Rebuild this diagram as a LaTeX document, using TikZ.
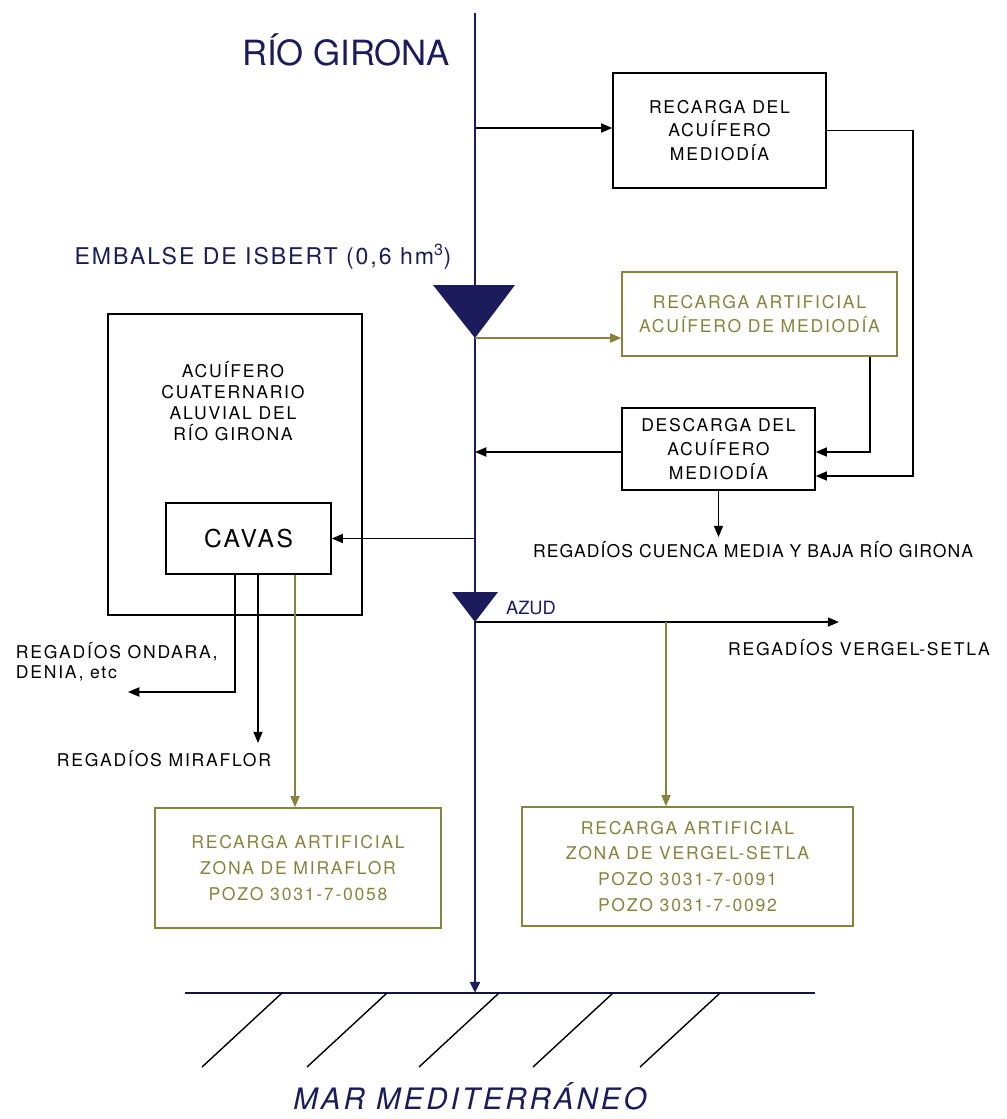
\documentclass[tikz,border=0pt]{standalone}
\usepackage{fontspec}
\setmainfont{TeX Gyre Heros}
\newfontfamily\ancho[LetterSpace=10]{TeX Gyre Heros}
\newfontfamily\medio[LetterSpace=6]{TeX Gyre Heros}
\newfontfamily\embal[LetterSpace=8.5]{TeX Gyre Heros}
\usetikzlibrary{arrows.meta}

\definecolor{marino}{RGB}{28,28,92}
\definecolor{oliva}{RGB}{135,130,60}

\tikzset{
  fino/.style={line width=1pt},
  flecha/.style={fino, -{Triangle[length=8pt,width=6.5pt]}},
  rio/.style={marino, line width=1.9pt, -{Triangle[length=8pt,width=7pt]}},
  caja/.style={draw, fino, inner sep=0pt, align=center,
    font=\ancho\fontsize{12.5}{16.5}\selectfont},
  cajaoliva/.style={caja, draw=oliva, text=oliva},
  rotulo/.style={align=left, font=\ancho\fontsize{12.5}{14.2}\selectfont},
}

\begin{document}
\begin{tikzpicture}[x=0.025cm,y=-0.025cm]
    \useasboundingbox (0,0) rectangle (1007,1119);

    % rio Girona
    \coordinate (rtop) at (475,13);
    \coordinate (rmar) at (475,993);
    \draw[rio] (rtop) -- (rmar);
    \node[text=marino, font=\fontsize{24.7}{28}\selectfont] (girona) at (346,50) {RÍO GIRONA};

    % embalse y azud
    \fill[marino] (433,285) -- (515,285) -- (475,338) coordinate (embalse) -- cycle;
    \node[text=marino, font=\embal\fontsize{16.4}{19}\selectfont] (isbert) at (263,257)
        {EMBALSE DE ISBERT (0,6 hm\textsuperscript{3})};
    \fill[marino] (452,592) -- (498,592) -- (475,622) coordinate (azud) -- cycle;
    \node[text=marino, font=\fontsize{13}{15}\selectfont] (azudlbl) at (531,608) {AZUD};

    % cajas
    \node[caja, minimum width=5.325cm, minimum height=2.875cm] (rd) at (719.5,130.5)
        {RECARGA DEL\\ACUÍFERO\\MEDIODÍA};
    \node[cajaoliva, minimum width=6.875cm, minimum height=2.1cm,
        font=\ancho\fontsize{12.5}{17}\selectfont] (ram) at (759.5,314)
        {RECARGA ARTIFICIAL\\ACUÍFERO DE MEDIODÍA};
    \node[caja, minimum width=4.825cm, minimum height=2.05cm,
        font=\ancho\fontsize{12.5}{17}\selectfont] (desc) at (718.5,449)
        {DESCARGA DEL\\ACUÍFERO\\MEDIODÍA};
    \node[draw, fino, minimum width=6.35cm, minimum height=7.525cm] (acu) at (235,464.5) {};
    \node[align=center, font=\ancho\fontsize{12.5}{15}\selectfont] (acutxt) at (233,401)
        {ACUÍFERO\\CUATERNARIO\\ALUVIAL DEL\\RÍO GIRONA};
    \node[caja, minimum width=4.125cm, minimum height=1.775cm,
        font=\ancho\fontsize{17.5}{20}\selectfont] (cavas) at (248.5,538.5) {CAVAS};
    \node[cajaoliva, minimum width=7.15cm, minimum height=3cm,
        font=\ancho\fontsize{12.5}{18.4}\selectfont] (mira) at (298,868)
        {RECARGA ARTIFICIAL\\ZONA DE MIRAFLOR\\POZO 3031-7-0058};
    \node[cajaoliva, minimum width=8.275cm, minimum height=2.975cm,
        font=\ancho\fontsize{12.5}{18.4}\selectfont] (verg) at (687.5,866.5)
        {RECARGA ARTIFICIAL\\ZONA DE VERGEL-SETLA\\POZO 3031-7-0091\\POZO 3031-7-0092};

    % rotulos de regadios
    \node[rotulo, font=\medio\fontsize{12.5}{14}\selectfont] (cuenca) at (753,550)
        {REGADÍOS CUENCA MEDIA Y BAJA RÍO GIRONA};
    \node[rotulo] (vergel) at (859,648) {REGADÍOS VERGEL-SETLA};
    \node[rotulo, anchor=west] (ondara) at (11,662) {REGADÍOS ONDARA,\\DENIA, etc};
    \node[rotulo] (miraflor) at (164,759) {REGADÍOS MIRAFLOR};

    % conexiones por la derecha
    \coordinate (r1) at (475,128);
    \draw[flecha] (r1) -- (r1 -| rd.west);
    \draw[flecha, oliva] (embalse) -- (embalse -| ram.west);
    \coordinate (c1) at (913,476);
    \draw[flecha] (rd.east) -| (c1) -- (c1 -| desc.east);
    \coordinate (c2) at (870,452);
    \draw[flecha] (ram.south -| c2) -- (c2) -- (c2 -| desc.east);
    \draw[flecha] (desc.west |- c2) -- (c2 -| rtop);
    \draw[flecha] (desc.south) -- (desc.south |- 0,537);

    % azud
    \coordinate (v1) at (839,622);
    \draw[flecha] (azud) -- (v1);
    \coordinate (v2) at (666,622);
    \draw[flecha, oliva] (v2) -- (v2 |- verg.north);

    % cavas
    \draw[flecha] (cavas.east -| rtop) -- (cavas.east);
    \coordinate (o1) at (235,692);
    \draw[flecha] (cavas.south -| o1) -- (o1) -- (128,692);
    \coordinate (o2) at (258,743);
    \draw[flecha] (cavas.south -| o2) -- (o2);
    \coordinate (o3) at (295,600);
    \draw[flecha, oliva] (cavas.south -| o3) -- (o3 |- mira.north);

    % mar
    \coordinate (mw) at (185,993);
    \coordinate (me) at (815,993);
    \draw[marino!70!black, line width=1.2pt] (mw) -- (me);
    \foreach \x in {282,387,499,613,720}
        \draw[fino] (\x,993) -- ++(-80,74);
    \node[text=marino, inner sep=1pt, font=\ancho\fontsize{21}{24}\selectfont\itshape] (mar) at (470,1096)
        {MAR MEDITERRÁNEO};
\end{tikzpicture}
\end{document}
